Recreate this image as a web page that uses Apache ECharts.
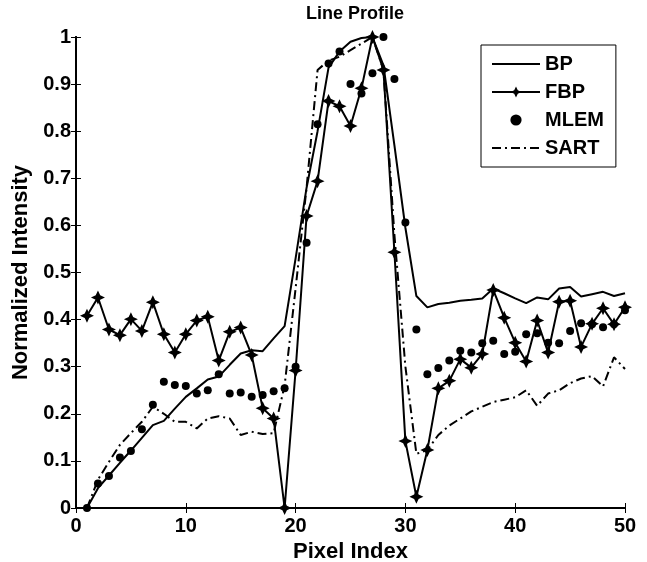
<!DOCTYPE html>
<html>
<head>
<meta charset="utf-8">
<script src="https://cdn.jsdelivr.net/npm/echarts@6/dist/echarts.min.js"></script>
<style>
  html, body { margin: 0; padding: 0; background: #fff; }
  #chart { width: 647px; height: 562px; }
</style>
</head>
<body>
<div id="chart"></div>
<script>
// pixel positions along the profile
var pixelIndex = [1, 2, 3, 4, 5, 6, 7, 8, 9, 10, 11, 12, 13, 14, 15, 16, 17, 18, 19, 20,
  21, 22, 23, 24, 25, 26, 27, 28, 29, 30, 31, 32, 33, 34, 35, 36, 37, 38, 39, 40,
  41, 42, 43, 44, 45, 46, 47, 48, 49, 50];

var bpValues = [0, 0.042, 0.069, 0.096, 0.122, 0.149, 0.176, 0.185, 0.211, 0.236,
  0.254, 0.273, 0.279, 0.304, 0.328, 0.335, 0.333, 0.36, 0.386, 0.53,
  0.68, 0.80, 0.935, 0.969, 0.99, 0.998, 1.0, 0.94, 0.77, 0.595,
  0.45, 0.426, 0.433, 0.436, 0.44, 0.442, 0.445, 0.466, 0.456, 0.445,
  0.435, 0.447, 0.443, 0.466, 0.469, 0.449, 0.454, 0.459, 0.45, 0.456];

var fbpValues = [0.408, 0.447, 0.379, 0.367, 0.401, 0.376, 0.437, 0.369, 0.330, 0.369,
  0.398, 0.406, 0.313, 0.374, 0.383, 0.325, 0.212, 0.19, 0.0, 0.292,
  0.62, 0.694, 0.864, 0.853, 0.811, 0.891, 1.0, 0.93, 0.543, 0.142,
  0.024, 0.123, 0.254, 0.27, 0.316, 0.298, 0.327, 0.463, 0.404, 0.351,
  0.311, 0.398, 0.33, 0.438, 0.44, 0.342, 0.391, 0.424, 0.39, 0.426];

var mlemValues = [0, 0.052, 0.068, 0.107, 0.121, 0.167, 0.219, 0.268, 0.261, 0.259,
  0.243, 0.25, 0.284, 0.243, 0.245, 0.236, 0.24, 0.248, 0.254, 0.30,
  0.563, 0.815, 0.944, 0.969, 0.90, 0.88, 0.923, 1.0, 0.911, 0.606,
  0.379, 0.284, 0.297, 0.313, 0.334, 0.33, 0.35, 0.355, 0.327, 0.332,
  0.369, 0.371, 0.351, 0.35, 0.376, 0.392, 0.39, 0.384, 0.39, 0.42];

var sartValues = [0, 0.06, 0.098, 0.134, 0.159, 0.183, 0.215, 0.2, 0.183, 0.183,
  0.169, 0.19, 0.195, 0.19, 0.155, 0.162, 0.157, 0.159, 0.26, 0.466,
  0.68, 0.93, 0.95, 0.958, 0.972, 0.986, 1.0, 0.93, 0.58, 0.30,
  0.115, 0.123, 0.155, 0.175, 0.19, 0.205, 0.215, 0.225, 0.23, 0.235,
  0.25, 0.217, 0.243, 0.25, 0.265, 0.275, 0.28, 0.258, 0.32, 0.295];

var xTicks = [0, 10, 20, 30, 40, 50];
var yTicks = [0, 0.1, 0.2, 0.3, 0.4, 0.5, 0.6, 0.7, 0.8, 0.9, 1];

function pairs(vals) {
  return pixelIndex.map(function (x, i) { return [x, vals[i]]; });
}

var fontFam = '"Liberation Sans", Arial, sans-serif';
var starPath = 'path://M0,-10 L3.2,-3.2 L10,0 L3.2,3.2 L0,10 L-3.2,3.2 L-10,0 L-3.2,-3.2 Z';
var hiddenMark = { color: 'rgba(0,0,0,0)', borderWidth: 0 };

var chart = echarts.init(document.getElementById('chart'));
var axisLine = { show: true, lineStyle: { color: '#000', width: 2 } };
var axisTick = { show: true, inside: true, length: 5, lineStyle: { color: '#000', width: 1 } };
var tickFont = { color: '#000', fontSize: 20, fontWeight: 'bold', fontFamily: fontFam };
var nameFont = { color: '#000', fontSize: 22, fontWeight: 'bold', fontFamily: fontFam };

var option = {
  animation: false,
  backgroundColor: '#fff',
  title: {
    text: 'Line Profile',
    left: 350,
    textAlign: 'center',
    top: 0,
    textStyle: { color: '#000', fontSize: 18, fontWeight: 'bold', fontFamily: fontFam }
  },
  grid: { left: 76, right: 22, top: 37, bottom: 54, outerBoundsMode: 'none' },
  legend: {
    orient: 'vertical',
    left: 481,
    top: 45,
    padding: [9, 12, 9, 10],
    itemWidth: 48,
    itemHeight: 14,
    itemGap: 8,
    borderColor: '#000',
    borderWidth: 1,
    backgroundColor: '#fff',
    textStyle: { color: '#000', fontSize: 20, fontWeight: 'bold', fontFamily: fontFam },
    data: [
      { name: 'BP', itemStyle: hiddenMark },
      { name: 'FBP' },
      { name: 'MLEM' },
      { name: 'SART', itemStyle: hiddenMark }
    ]
  },
  xAxis: [{
    type: 'value', min: xTicks[0], max: xTicks[xTicks.length - 1], interval: 10,
    name: 'Pixel Index', nameLocation: 'middle', nameGap: 27,
    nameTextStyle: nameFont,
    axisLine: axisLine, axisTick: axisTick,
    axisLabel: Object.assign({ margin: 8 }, tickFont),
    splitLine: { show: false }
  }, {
    type: 'value', position: 'top', min: 0, max: 50, interval: 10,
    axisLine: axisLine, axisTick: axisTick, axisLabel: { show: false }, splitLine: { show: false }
  }],
  yAxis: [{
    type: 'value', min: yTicks[0], max: yTicks[yTicks.length - 1], interval: 0.1,
    name: 'Normalized Intensity', nameLocation: 'middle', nameGap: 43,
    nameTextStyle: nameFont,
    axisLine: axisLine, axisTick: axisTick,
    axisLabel: Object.assign({ margin: 5 }, tickFont),
    splitLine: { show: false }
  }, {
    type: 'value', position: 'right', min: 0, max: 1, interval: 0.1,
    axisLine: axisLine, axisTick: axisTick, axisLabel: { show: false }, splitLine: { show: false }
  }],
  series: [{
    name: 'BP', type: 'line', data: pairs(bpValues),
    showSymbol: false, symbol: 'none',
    lineStyle: { color: '#000', width: 2 }, itemStyle: { color: '#000' }
  }, {
    name: 'FBP', type: 'line', data: pairs(fbpValues),
    symbol: starPath, symbolSize: 14,
    lineStyle: { color: '#000', width: 2 }, itemStyle: { color: '#000' }
  }, {
    name: 'MLEM', type: 'line', data: pairs(mlemValues),
    symbol: 'circle', symbolSize: 8,
    lineStyle: { width: 0, opacity: 0 }, itemStyle: { color: '#000' }
  }, {
    name: 'SART', type: 'line', data: pairs(sartValues),
    symbol: 'none',
    lineStyle: { color: '#000', width: 2, type: [9, 4, 2, 4] }, itemStyle: { color: '#000' }
  }]
};

chart.setOption(option, true);
window.onresize = function () {
  chart.resize();
};
</script>
</body>
</html>
